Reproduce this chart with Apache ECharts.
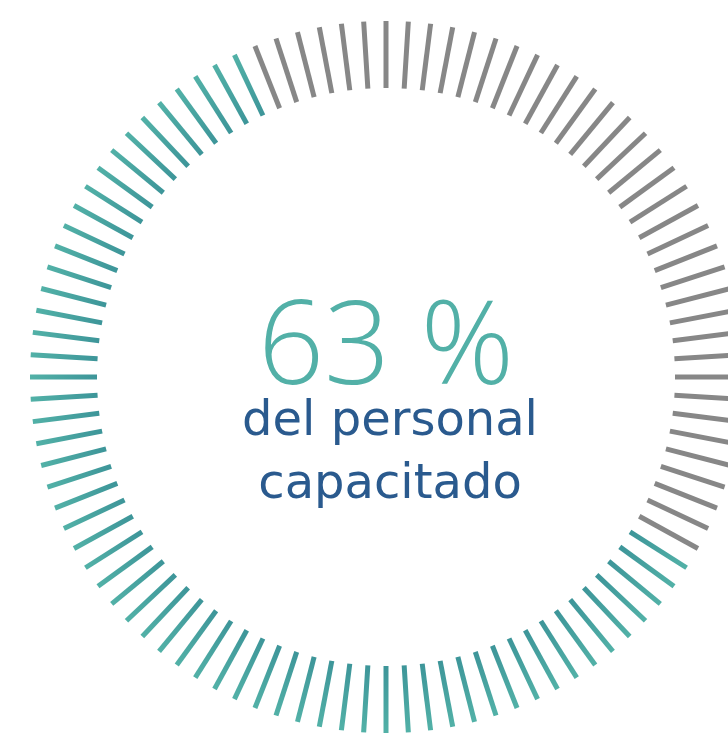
<!DOCTYPE html>
<html><head><meta charset="utf-8">
<script src="https://cdn.jsdelivr.net/npm/echarts@6/dist/echarts.min.js"></script>
<style>html,body{margin:0;padding:0;background:#fff}#c{width:728px;height:733px}</style>
</head><body><div id="c"></div>
<script>
// Data
const totalTicks = [100];
const filledTicks = [60];
const filledStartTick = [34]; // tick index, clockwise from 12 o'clock
const percentValue = [63];
const labelLines = ['del personal', 'capacitado'];

const CX = 386, CY = 377, R = 356, LEN = 67;
const step = 360 / totalTicks[0];
const toEc = cw => 90 - cw;
const tealStart = filledStartTick[0] * step;
const tealEnd = (filledStartTick[0] + filledTicks[0] - 1) * step;
const greyStart = (filledStartTick[0] + filledTicks[0]) * step;
const greyEnd = (filledStartTick[0] + totalTicks[0] - 1) * step;

const tealGrad = {
  type: 'radial', x: CX, y: CY, r: R, global: true,
  colorStops: [
    {offset: 0, color: '#3d9599'},
    {offset: 0.81, color: '#3d9599'},
    {offset: 1, color: '#52b1a7'}
  ]
};

function ring(startCw, endCw, n, color, extra) {
  return Object.assign({
    type: 'gauge',
    center: [CX, CY],
    radius: R,
    startAngle: toEc(startCw),
    endAngle: toEc(endCw),
    clockwise: true,
    min: 0, max: n - 1,
    splitNumber: n - 1,
    axisLine: {show: false, lineStyle: {width: 0}},
    axisTick: {show: false},
    axisLabel: {show: false},
    pointer: {show: false},
    anchor: {show: false},
    splitLine: {show: true, distance: 0, length: LEN, lineStyle: {color: color, width: 5, cap: 'butt'}},
    title: {show: false},
    detail: {show: false},
    data: [{value: 0}]
  }, extra || {});
}

const chart = echarts.init(document.getElementById('c'), null, {renderer: 'canvas'});
chart.setOption({
  backgroundColor: '#ffffff',
  animation: false,
  series: [
    ring(greyStart, greyEnd, totalTicks[0] - filledTicks[0], '#878787'),
    ring(tealStart, tealEnd, filledTicks[0], tealGrad, {
      data: [{value: percentValue[0], name: labelLines.join('\n')}],
      title: {
        show: true,
        offsetCenter: [4, 77],
        color: '#2a5a8e',
        fontFamily: 'DejaVu Sans',
        fontSize: 48,
        lineHeight: 63
      },
      detail: {
        show: true,
        offsetCenter: [0, -26],
        formatter: '{value} %',
        color: '#52b0a7',
        fontFamily: 'Open Sans',
        fontWeight: 300,
        fontSize: 116,
        valueAnimation: false
      }
    })
  ]
});
</script></body></html>
